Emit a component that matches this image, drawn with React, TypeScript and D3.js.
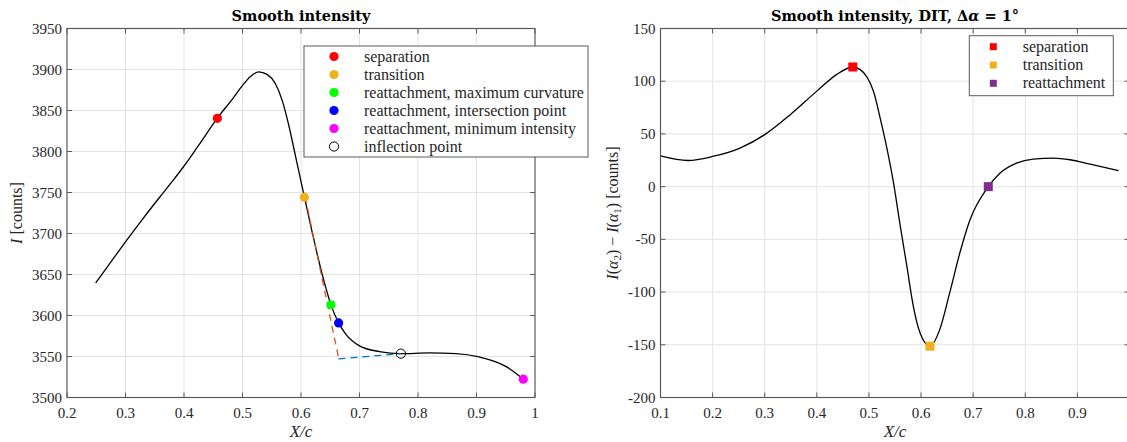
import React from 'react';
import * as d3 from 'd3';

// ---------- data: left panel (smooth intensity) ----------
const intX = [0.249, 0.2717, 0.3002, 0.3286, 0.357, 0.3799, 0.3998, 0.4254, 0.4567, 0.485, 0.4994, 0.5136, 0.5278, 0.542, 0.556, 0.5677, 0.579, 0.5904, 0.6058, 0.619, 0.63, 0.64, 0.6512, 0.6643, 0.6768, 0.7, 0.734, 0.7707, 0.819, 0.8647, 0.9045, 0.95, 0.98];
const intY = [3639.7, 3662, 3690, 3717, 3743, 3763.5, 3782, 3808, 3840.4, 3866, 3880, 3891.5, 3897.2, 3894, 3883, 3862.7, 3832.3, 3795, 3744.3, 3702, 3668, 3640, 3613, 3591, 3577, 3563, 3556, 3553.5, 3554.3, 3553.5, 3549.4, 3538, 3522.4];
const tangentX = [0.607, 0.664];
const tangentY = [3745, 3549];
const plateauX = [0.664, 0.7707];
const plateauY = [3547, 3553.5];
const leftMarkerNames = ['separation', 'transition', 'reattachment, maximum curvature', 'reattachment, intersection point', 'reattachment, minimum intensity', 'inflection point'];
const leftMarkerX = [0.457, 0.6058, 0.6512, 0.6643, 0.98, 0.7707];
const leftMarkerY = [3840.4, 3744.3, 3613, 3591, 3522.4, 3553.5];
const leftMarkerColors = ['#ff0000', '#edb120', '#00ff00', '#0000ff', '#ff00ff', 'none'];
const leftXTicks = [0.2, 0.3, 0.4, 0.5, 0.6, 0.7, 0.8, 0.9, 1];
const leftYTicks = [3500, 3550, 3600, 3650, 3700, 3750, 3800, 3850, 3900, 3950];

// ---------- data: right panel (DIT) ----------
const ditX = [0.1, 0.153, 0.2, 0.2526, 0.3, 0.349, 0.4, 0.4385, 0.469, 0.4833, 0.4962, 0.509, 0.522, 0.5346, 0.547, 0.56, 0.5726, 0.585, 0.598, 0.617, 0.636, 0.655, 0.6745, 0.6936, 0.729, 0.7512, 0.7832, 0.815, 0.854, 0.886, 0.9245, 0.979];
const ditY = [29.2, 24.8, 28.6, 36.6, 49.3, 68.3, 90.6, 106.5, 113.5, 111, 104, 90, 64, 36, 4, -37, -75, -113, -138.6, -151.3, -135.4, -100.6, -62.7, -31.8, 0, 12.7, 22.3, 26.1, 27, 25.5, 21.3, 15.3];
const rightMarkerNames = ['separation', 'transition', 'reattachment'];
const rightMarkerX = [0.469, 0.617, 0.729];
const rightMarkerY = [113.5, -151.3, 0];
const rightMarkerColors = ['#ff0000', '#edb120', '#7e2f8e'];
const rightXTicks = [0.1, 0.2, 0.3, 0.4, 0.5, 0.6, 0.7, 0.8, 0.9, 1];
const rightYTicks = [-200, -150, -100, -50, 0, 50, 100, 150];

const SERIF = '"Liberation Serif", "Times New Roman", serif';
const BOLD = '"DejaVu Serif", serif';
const AXIS = '#5a5a5a';
const GRID = '#e3e3e3';
const TXT = '#262626';

const TOP = 28.5;
const BOTTOM = 397.5;

function fmtX(v: number) {
  return v === 1 ? '1' : v.toFixed(1);
}

function Frame({ x, y, xTicks, yTicks }: any) {
  const [x0, x1] = x.range();
  const [y1, y0] = y.range();
  return (
    <g>
      {xTicks.slice(1, -1).map((t: number) => (
        <line key={'gx' + t} x1={x(t)} x2={x(t)} y1={y0} y2={y1} stroke={GRID} strokeWidth={1} />
      ))}
      {yTicks.slice(1, -1).map((t: number) => (
        <line key={'gy' + t} x1={x0} x2={x1} y1={y(t)} y2={y(t)} stroke={GRID} strokeWidth={1} />
      ))}
    </g>
  );
}

function Box({ x, y, xTicks, yTicks }: any) {
  const [x0, x1] = x.range();
  const [y1, y0] = y.range();
  const tl = 5;
  return (
    <g>
      <rect x={x0} y={y0} width={x1 - x0} height={y1 - y0} fill="none" stroke={AXIS} strokeWidth={1.2} />
      {xTicks.map((t: number) => (
        <g key={'tx' + t}>
          <line x1={x(t)} x2={x(t)} y1={y1} y2={y1 - tl} stroke={AXIS} />
          <line x1={x(t)} x2={x(t)} y1={y0} y2={y0 + tl} stroke={AXIS} />
          <text x={x(t)} y={y1 + 20} textAnchor="middle" fontFamily={SERIF} fontSize={15} fill={TXT}>{fmtX(t)}</text>
        </g>
      ))}
      {yTicks.map((t: number) => (
        <g key={'ty' + t}>
          <line x1={x0} x2={x0 + tl} y1={y(t)} y2={y(t)} stroke={AXIS} />
          <line x1={x1} x2={x1 - tl} y1={y(t)} y2={y(t)} stroke={AXIS} />
          <text x={x0 - 5} y={y(t) + 5} textAnchor="end" fontFamily={SERIF} fontSize={15} fill={TXT}>{String(t)}</text>
        </g>
      ))}
    </g>
  );
}

export default function App() {
  const xL = d3.scaleLinear().domain([0.2, 1]).range([67, 535]);
  const yL = d3.scaleLinear().domain([3500, 3950]).range([BOTTOM, TOP]);
  const xR = d3.scaleLinear().domain([0.1, 1]).range([660.5, 1129.5]);
  const yR = d3.scaleLinear().domain([-200, 150]).range([BOTTOM, TOP]);

  const lineL = d3.line<number>().x((d) => xL(intX[d])).y((d) => yL(intY[d])).curve(d3.curveMonotoneX);
  const lineR = d3.line<number>().x((d) => xR(ditX[d])).y((d) => yR(ditY[d])).curve(d3.curveMonotoneX);
  const segL = (xs: number[], ys: number[]) =>
    d3.line<number>().x((d) => xL(xs[d])).y((d) => yL(ys[d]))(d3.range(xs.length)) as string;

  const legL = { x: 304, y: 46, w: 284, h: 111 };
  const legR = { x: 969.3, y: 35.7, w: 144, h: 60 };

  return (
    <svg width={1127} height={442} style={{ position: 'absolute', left: 0, top: 0, background: '#fff' }}>
      <rect x={0} y={0} width={1127} height={442} fill="#fff" />
      {/* Left panel */}
      <Frame x={xL} y={yL} xTicks={leftXTicks} yTicks={leftYTicks} />
      <path d={lineL(d3.range(intX.length)) as string} fill="none" stroke="#000" strokeWidth={1.3} />
      <path d={segL(tangentX, tangentY)} fill="none" stroke="#d95319" strokeWidth={1.3} strokeDasharray="7,5" />
      <path d={segL(plateauX, plateauY)} fill="none" stroke="#0072bd" strokeWidth={1.3} strokeDasharray="7,5" />
      {leftMarkerX.map((v, i) => (
        <circle key={'lm' + i} cx={xL(v)} cy={yL(leftMarkerY[i])} r={4.6}
          fill={leftMarkerColors[i]} stroke={leftMarkerColors[i] === 'none' ? '#000' : 'none'} strokeWidth={1} />
      ))}
      <Box x={xL} y={yL} xTicks={leftXTicks} yTicks={leftYTicks} />
      <text x={301} y={21} textAnchor="middle" fontFamily={BOLD} fontWeight="bold" fontSize={14.5} fill="#000">Smooth intensity</text>
      <text x={301} y={437} textAnchor="middle" fontFamily={SERIF} fontStyle="italic" fontSize={17} fill={TXT}>X/c</text>
      <text transform="translate(22,213) rotate(-90)" textAnchor="middle" fontFamily={SERIF} fontSize={16} fill={TXT}>
        <tspan fontStyle="italic">I</tspan> [counts]
      </text>
      {/* Left legend */}
      <rect x={legL.x} y={legL.y} width={legL.w} height={legL.h} fill="#fff" stroke={AXIS} strokeWidth={1} />
      {leftMarkerNames.map((n, i) => {
        const cy = legL.y + 10.5 + i * 18;
        return (
          <g key={'ll' + i}>
            <circle cx={334} cy={cy} r={4.6} fill={leftMarkerColors[i]}
              stroke={leftMarkerColors[i] === 'none' ? '#000' : 'none'} strokeWidth={1} />
            <text x={364} y={cy + 5} fontFamily={SERIF} fontSize={16} fill={TXT}>{n}</text>
          </g>
        );
      })}

      {/* Right panel */}
      <Frame x={xR} y={yR} xTicks={rightXTicks} yTicks={rightYTicks} />
      <path d={lineR(d3.range(ditX.length)) as string} fill="none" stroke="#000" strokeWidth={1.3} />
      {rightMarkerX.map((v, i) => (
        <rect key={'rm' + i} x={xR(v) - 4.5} y={yR(rightMarkerY[i]) - 4.5} width={9} height={9} fill={rightMarkerColors[i]} />
      ))}
      <Box x={xR} y={yR} xTicks={rightXTicks} yTicks={rightYTicks} />
      <text x={895} y={21} textAnchor="middle" fontFamily={BOLD} fontWeight="bold" fontSize={14.5} fill="#000">
        Smooth intensity, DIT, Δ<tspan fontStyle="italic">α</tspan> = 1°
      </text>
      <text x={895} y={437} textAnchor="middle" fontFamily={SERIF} fontStyle="italic" fontSize={17} fill={TXT}>X/c</text>
      <text transform="translate(618,213) rotate(-90)" textAnchor="middle" fontFamily={SERIF} fontSize={16} fill={TXT}>
        <tspan fontStyle="italic">I</tspan>(<tspan fontStyle="italic">α</tspan><tspan fontSize={11} dy={3}>2</tspan><tspan dy={-3}>) − </tspan>
        <tspan fontStyle="italic">I</tspan>(<tspan fontStyle="italic">α</tspan><tspan fontSize={11} dy={3}>1</tspan><tspan dy={-3}>) [counts]</tspan>
      </text>
      {/* Right legend */}
      <rect x={legR.x} y={legR.y} width={legR.w} height={legR.h} fill="#fff" stroke={AXIS} strokeWidth={1} />
      {rightMarkerNames.map((n, i) => {
        const cy = legR.y + 11 + i * 18.3;
        return (
          <g key={'rl' + i}>
            <rect x={993.3 - 3.5} y={cy - 3.5} width={7} height={7} fill={rightMarkerColors[i]} />
            <text x={1022.7} y={cy + 5} fontFamily={SERIF} fontSize={16} fill={TXT}>{n}</text>
          </g>
        );
      })}
    </svg>
  );
}
